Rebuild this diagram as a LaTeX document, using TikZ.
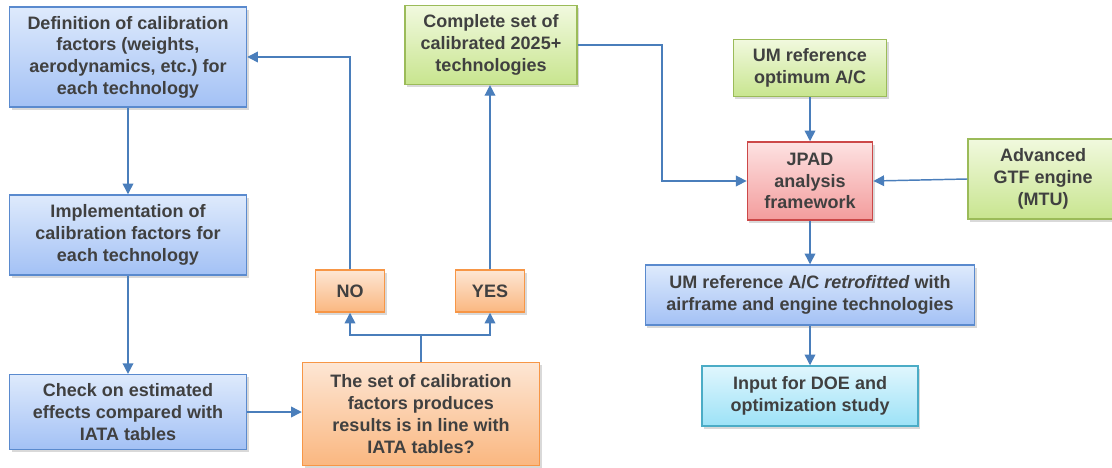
\documentclass[tikz,border=0pt]{standalone}
\usepackage{fontspec}
\setmainfont{Liberation Sans}
\frenchspacing
\usetikzlibrary{arrows.meta,shadows}
\definecolor{blueTop}{RGB}{222,234,252}
\definecolor{blueBot}{RGB}{163,193,245}
\definecolor{blueLine}{RGB}{90,138,206}
\definecolor{orangeTop}{RGB}{253,230,212}
\definecolor{orangeBot}{RGB}{250,183,128}
\definecolor{orangeLine}{RGB}{247,150,70}
\definecolor{greenTop}{RGB}{241,249,222}
\definecolor{greenBot}{RGB}{200,229,143}
\definecolor{greenLine}{RGB}{155,187,89}
\definecolor{redTop}{RGB}{253,226,226}
\definecolor{redBot}{RGB}{243,156,156}
\definecolor{redLine}{RGB}{204,72,72}
\definecolor{cyanTop}{RGB}{224,246,253}
\definecolor{cyanBot}{RGB}{156,226,247}
\definecolor{cyanLine}{RGB}{75,172,198}
\definecolor{arrowBlue}{RGB}{74,126,187}
\definecolor{textGray}{RGB}{64,64,64}

\begin{document}
\begin{tikzpicture}[x=0.75pt, y=-0.75pt, font=\bfseries\fontsize{13.5}{16.3}\selectfont,
  box/.style={draw, line width=1.1pt, align=center, text=textGray, inner sep=2pt,
    drop shadow={opacity=0.3, shadow xshift=1.5pt, shadow yshift=-2pt}},
  bluebox/.style={box, draw=blueLine, top color=blueTop, bottom color=blueBot},
  orangebox/.style={box, draw=orangeLine, top color=orangeTop, bottom color=orangeBot},
  greenbox/.style={box, draw=greenLine, top color=greenTop, bottom color=greenBot},
  redbox/.style={box, draw=redLine, top color=redTop, bottom color=redBot},
  cyanbox/.style={box, draw=cyanLine, top color=cyanTop, bottom color=cyanBot},
  flow/.style={arrowBlue, line width=1.1pt, -{Triangle[length=8pt,width=8pt]}}]
  \useasboundingbox (0,0) rectangle (1112,467);
  % calibration loop
  \node[bluebox, minimum width=177.75pt, minimum height=75pt] (define) at (128,57)
    {Definition of calibration\\factors (weights,\\aerodynamics, etc.) for\\each technology};
  \node[bluebox, minimum width=177.75pt, minimum height=60pt] (implement) at (128,235)
    {Implementation of\\calibration factors for\\each technology};
  \node[bluebox, minimum width=177.75pt, minimum height=56pt] (check) at (128,412)
    {Check on estimated\\effects compared with\\IATA tables};
  \node[orangebox, minimum width=177.75pt, minimum height=77pt] (question) at (421,414)
    {The set of calibration\\factors produces\\results is in line with\\IATA tables?};
  \node[orangebox, minimum width=51.75pt, minimum height=31.5pt] (no) at (350,291) {NO};
  \node[orangebox, minimum width=51.75pt, minimum height=31.5pt] (yes) at (490,291) {YES};
  \node[greenbox, minimum width=129pt, minimum height=59pt] (complete) at (491,45)
    {Complete set of\\calibrated 2025+\\technologies};
  % analysis chain
  \node[greenbox, minimum width=115pt, minimum height=43pt] (umopt) at (810,68)
    {UM reference\\optimum A/C};
  \node[redbox, minimum width=94pt, minimum height=58.5pt] (jpad) at (810,181)
    {JPAD\\analysis\\framework};
  \node[greenbox, minimum width=112.5pt, minimum height=60pt] (gtf) at (1043,179)
    {Advanced\\GTF engine\\(MTU)};
  \node[bluebox, minimum width=247pt, minimum height=45pt] (retro) at (810,295)
    {UM reference A/C \textit{retrofitted} with\\airframe and engine technologies};
  \node[cyanbox, minimum width=162pt, minimum height=45pt] (input) at (810,396)
    {Input for DOE and\\optimization study};
  \coordinate (split) at (421,335);
  \coordinate (turn) at (662,0);
  \draw[flow] (define) -- (implement);
  \draw[flow] (implement) -- (check);
  \draw[flow] (check.east) -- (check.east -| question.west);
  \draw[flow] (question.north) -- (split) -| (no.south);
  \draw[flow] (split) -| (yes.south);
  \draw[flow] (no.north) |- (define.east);
  \draw[flow] (yes.north) -- (yes.north |- complete.south);
  \draw[flow] (complete.east) -- (complete.east -| turn) |- (jpad.west);
  \draw[flow] (umopt) -- (jpad);
  \draw[flow] (gtf.west) -- (jpad.east);
  \draw[flow] (jpad) -- (retro);
  \draw[flow] (retro) -- (input);
\end{tikzpicture}
\end{document}
